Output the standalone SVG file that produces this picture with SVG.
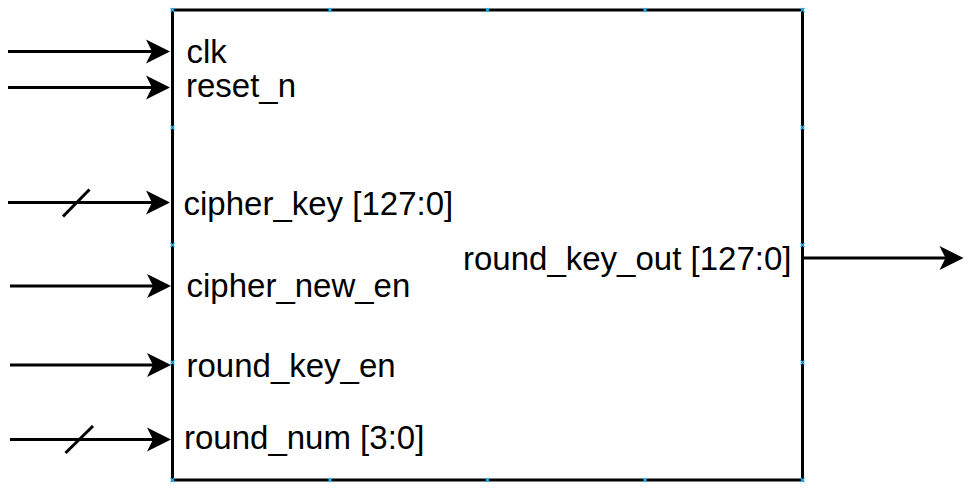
<svg xmlns="http://www.w3.org/2000/svg" width="972" height="497" viewBox="0 0 972 497">
  <style>
    .lbl { font-family: "Liberation Sans", Arial, sans-serif; font-size: 33px; fill: #000; }
    .wire { stroke: #000; stroke-width: 3; fill: none; }
    .bus { stroke: #000; stroke-width: 3; fill: none; }
    .pt { stroke: #29b6f2; stroke-width: 1.2; fill: none; }
  </style>
  <defs>
    <marker id="arr" markerUnits="userSpaceOnUse" markerWidth="30" markerHeight="30" viewBox="-26 -14 30 28" refX="-4" refY="0" orient="auto">
      <path d="M0,0 L-24,-12 L-18,0 L-24,12 Z" fill="#000"/>
    </marker>
    <path id="x" d="M-2,-2 L2,2 M-2,2 L2,-2" class="pt"/>
  </defs>
  <rect width="972" height="497" fill="#fff"/>

  <g id="module">
    <rect x="172.5" y="10" width="630" height="470" fill="#fff" stroke="#000" stroke-width="3"/>
    <text class="lbl" x="186.5" y="62.5">clk</text>
    <text class="lbl" x="186" y="97">reset_n</text>
    <text class="lbl" x="183.5" y="215">cipher_key [127:0]</text>
    <text class="lbl" x="186.5" y="297">cipher_new_en</text>
    <text class="lbl" x="186.5" y="377">round_key_en</text>
    <text class="lbl" x="184" y="448.5">round_num [3:0]</text>
    <text class="lbl" x="463" y="270">round_key_out [127:0]</text>
  </g>

  <g id="connection-points">
    <use href="#x" x="172.5" y="10"/>
    <use href="#x" x="330" y="10"/>
    <use href="#x" x="487.5" y="10"/>
    <use href="#x" x="645" y="10"/>
    <use href="#x" x="802.5" y="10"/>
    <use href="#x" x="172.5" y="480"/>
    <use href="#x" x="330" y="480"/>
    <use href="#x" x="487.5" y="480"/>
    <use href="#x" x="645" y="480"/>
    <use href="#x" x="802.5" y="480"/>
    <use href="#x" x="172.5" y="127.5"/>
    <use href="#x" x="172.5" y="245"/>
    <use href="#x" x="172.5" y="362.5"/>
    <use href="#x" x="802.5" y="127.5"/>
    <use href="#x" x="802.5" y="245"/>
    <use href="#x" x="802.5" y="362.5"/>
  </g>

  <g id="connectors">
    <line class="wire" x1="8" y1="51.5" x2="166" y2="51.5" marker-end="url(#arr)"/>
    <line class="wire" x1="8" y1="87.5" x2="166" y2="87.5" marker-end="url(#arr)"/>
    <line class="wire" x1="8" y1="202.5" x2="166" y2="202.5" marker-end="url(#arr)"/>
    <line class="bus" x1="63" y1="216.5" x2="89.5" y2="189.5"/>
    <line class="wire" x1="10" y1="286" x2="167" y2="286" marker-end="url(#arr)"/>
    <line class="wire" x1="10" y1="365" x2="167" y2="365" marker-end="url(#arr)"/>
    <line class="wire" x1="10" y1="439.5" x2="167" y2="439.5" marker-end="url(#arr)"/>
    <line class="bus" x1="65.5" y1="453" x2="93" y2="426"/>
    <line class="wire" x1="804" y1="258" x2="959.5" y2="258" marker-end="url(#arr)"/>
  </g>
</svg>
